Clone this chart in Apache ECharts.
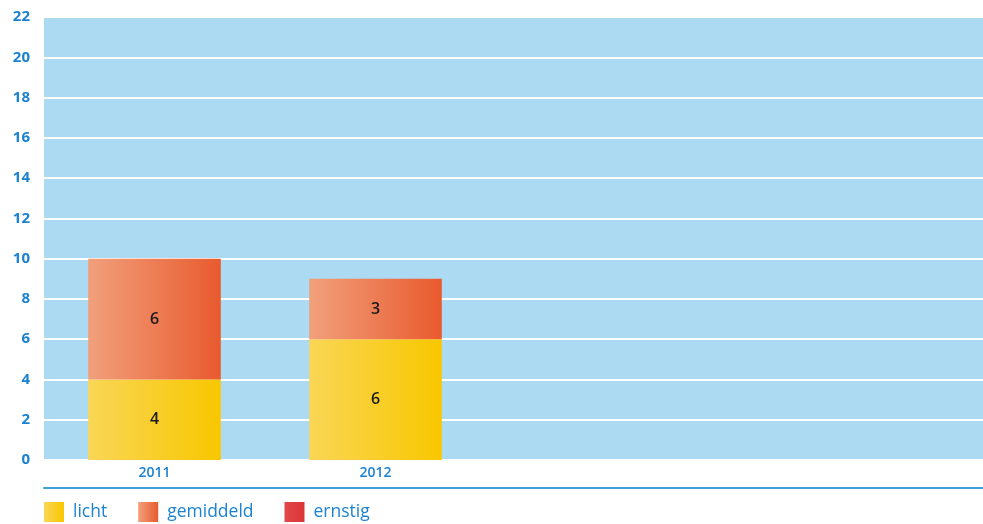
<!DOCTYPE html>
<html>
<head>
<meta charset="utf-8">
<script src="https://cdn.jsdelivr.net/npm/echarts@6/dist/echarts.min.js"></script>
<style>
html,body{margin:0;padding:0;background:#fff;}
#c{width:983px;height:524px;}
</style>
</head>
<body>
<div id="c"></div>
<script>
const categories = ['2011', '2012', '', '', ''];
const licht = [4, 6, null, null, null];
const gemiddeld = [6, 3, null, null, null];
const ernstig = [null, null, null, null, null];
const yTicks = [0, 2, 4, 6, 8, 10, 12, 14, 16, 18, 20, 22];

const blue = '#1b82d2';
function grad(a, b) {
  return new echarts.graphic.LinearGradient(0, 0, 1, 0, [
    { offset: 0, color: a }, { offset: 1, color: b }
  ]);
}
const chart = echarts.init(document.getElementById('c'));
const labelStyle = { show: true, position: 'inside', color: '#1a1a1a', fontSize: 16, fontFamily: 'Open Sans', fontWeight: 600 };
chart.setOption({
  animation: false,
  grid: {
    left: 44, top: 17, height: 443, width: 1105,
    outerBoundsMode: 'none', containLabel: false,
    show: true, backgroundColor: '#acdaf2', borderWidth: 0
  },
  legend: {
    left: 44, top: 502, padding: 0, itemWidth: 20, itemHeight: 20, itemGap: 31,
    icon: 'rect',
    textStyle: { color: blue, fontSize: 17.5, fontFamily: 'Open Sans', padding: [0, 0, 0, 4] },
    data: ['licht', 'gemiddeld', 'ernstig']
  },
  xAxis: [{
    type: 'category', data: categories, gridIndex: 0,
    axisLine: { show: false }, axisTick: { show: false },
    axisLabel: { color: blue, fontSize: 14, fontFamily: 'Open Sans', fontWeight: 600, margin: 6 }
  }, {
    type: 'category', data: categories, gridIndex: 0, position: 'bottom', offset: 28,
    axisLine: { show: true, lineStyle: { color: '#3a9fda', width: 2 } },
    axisTick: { show: false }, axisLabel: { show: false }
  }],
  yAxis: {
    type: 'value', min: yTicks[0], max: yTicks[yTicks.length - 1], interval: 2,
    axisLine: { show: false }, axisTick: { show: false },
    splitLine: { show: true, lineStyle: { color: '#ffffff', width: 2 } },
    axisLabel: { color: blue, fontSize: 15, fontFamily: 'Open Sans', fontWeight: 700, margin: 14 }
  },
  series: [
    { name: 'licht', type: 'bar', stack: 's', barWidth: '60%', data: licht,
      itemStyle: { color: grad('#f9d656', '#f8c700') }, label: labelStyle },
    { name: 'gemiddeld', type: 'bar', stack: 's', data: gemiddeld,
      itemStyle: { color: grad('#f1a07c', '#e95a2e') }, label: labelStyle },
    { name: 'ernstig', type: 'bar', stack: 's', data: ernstig,
      itemStyle: { color: grad('#e2484a', '#dc3536') }, label: labelStyle }
  ]
});
</script>
</body>
</html>
